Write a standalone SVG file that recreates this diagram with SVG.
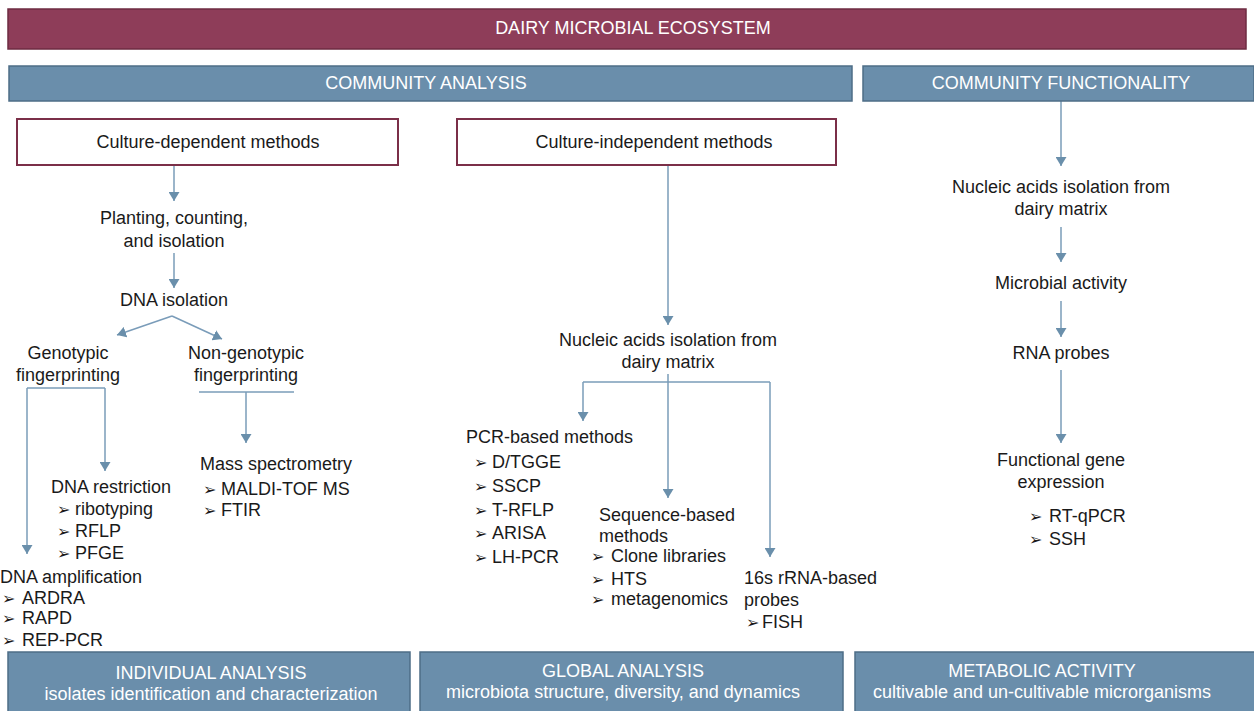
<svg xmlns="http://www.w3.org/2000/svg" width="1254" height="711" viewBox="0 0 1254 711">
<style>
.t{font-family:"Liberation Sans",Arial,sans-serif;font-size:18px;fill:#1a1a1a}
.c{text-anchor:middle}
.w{fill:#ffffff}
.b{font-family:"DejaVu Sans",sans-serif;font-size:16px;fill:#1a1a1a}
.red{fill:#8e3d59;stroke:#6e2b42;stroke-width:1.5}
.blue{fill:#6a8eab;stroke:#4e6d87;stroke-width:1.5}
.box{fill:#ffffff;stroke:#7b2f48;stroke-width:2}
.ln{fill:none;stroke:#7a9cb9;stroke-width:1.5}
.ar{fill:none;stroke:#7a9cb9;stroke-width:1.5;marker-end:url(#ah)}
</style>
<defs>
<marker id="ah" viewBox="0 0 9 11" refX="9" refY="5.5" markerWidth="9" markerHeight="11" markerUnits="userSpaceOnUse" orient="auto">
<path d="M0,0 L9,5.5 L0,11 z" fill="#6a8fab"/>
</marker>
</defs>
<rect width="1254" height="711" fill="#ffffff"/>

<g id="connectors">
<line class="ar" x1="174" y1="166" x2="174" y2="201"/>
<line class="ar" x1="174" y1="253" x2="174" y2="288"/>
<line class="ar" x1="172" y1="316" x2="117" y2="335"/>
<line class="ar" x1="172" y1="316" x2="222" y2="339"/>
<line class="ln" x1="27" y1="388" x2="105" y2="388"/>
<line class="ar" x1="27" y1="388" x2="27" y2="554"/>
<line class="ar" x1="105" y1="388" x2="105" y2="471"/>
<line class="ln" x1="199" y1="392" x2="294" y2="392"/>
<line class="ar" x1="246" y1="392" x2="246" y2="443"/>

<line class="ar" x1="668" y1="166" x2="668" y2="325"/>
<line class="ln" x1="583" y1="382" x2="770" y2="382"/>
<line class="ln" x1="668" y1="374" x2="668" y2="382"/>
<line class="ar" x1="583" y1="382" x2="583" y2="421"/>
<line class="ar" x1="668" y1="382" x2="668" y2="498"/>
<line class="ar" x1="770" y1="382" x2="770" y2="557"/>

<line class="ar" x1="1061" y1="101" x2="1061" y2="166"/>
<line class="ar" x1="1061" y1="227" x2="1061" y2="262"/>
<line class="ar" x1="1061" y1="301" x2="1061" y2="337"/>
<line class="ar" x1="1061" y1="370" x2="1061" y2="443"/>
</g>

<g id="ecosystem">
<rect class="red" x="8" y="9" width="1238" height="40"/>
<text class="t c w" x="633" y="34">DAIRY MICROBIAL ECOSYSTEM</text>
</g>
<g id="community-analysis">
<rect class="blue" x="9" y="66" width="843" height="35"/>
<text class="t c w" x="426" y="89">COMMUNITY ANALYSIS</text>
</g>
<g id="community-functionality">
<rect class="blue" x="863" y="66" width="391" height="35"/>
<text class="t c w" x="1061" y="89">COMMUNITY FUNCTIONALITY</text>
</g>

<g id="culture-dependent">
<rect class="box" x="17" y="119" width="381" height="46"/>
<text class="t c" x="208" y="148">Culture-dependent methods</text>
</g>
<g id="culture-independent">
<rect class="box" x="457" y="119" width="379" height="46"/>
<text class="t c" x="654" y="148">Culture-independent methods</text>
</g>

<g id="planting">
<text class="t c" x="174" y="224">Planting, counting,</text>
<text class="t c" x="174" y="247">and isolation</text>
</g>
<g id="dna-isolation">
<text class="t c" x="174" y="306">DNA isolation</text>
</g>
<g id="genotypic">
<text class="t c" x="68" y="359">Genotypic</text>
<text class="t c" x="68" y="381">fingerprinting</text>
</g>
<g id="non-genotypic">
<text class="t c" x="246" y="359">Non-genotypic</text>
<text class="t c" x="246" y="381">fingerprinting</text>
</g>
<g id="mass-spectrometry">
<text class="t" x="200" y="470">Mass spectrometry</text>
<text class="b" x="203" y="495">➢</text><text class="t" x="221" y="495">MALDI-TOF MS</text>
<text class="b" x="203" y="516">➢</text><text class="t" x="221" y="516">FTIR</text>
</g>
<g id="dna-restriction">
<text class="t" x="51" y="493">DNA restriction</text>
<text class="b" x="57" y="515">➢</text><text class="t" x="75" y="515">ribotyping</text>
<text class="b" x="57" y="537">➢</text><text class="t" x="75" y="537">RFLP</text>
<text class="b" x="57" y="559">➢</text><text class="t" x="75" y="559">PFGE</text>
</g>
<g id="dna-amplification">
<text class="t" x="0" y="583">DNA amplification</text>
<text class="b" x="2" y="604">➢</text><text class="t" x="22" y="604">ARDRA</text>
<text class="b" x="2" y="624">➢</text><text class="t" x="22" y="624">RAPD</text>
<text class="b" x="2" y="646">➢</text><text class="t" x="22" y="646">REP-PCR</text>
</g>

<g id="nucleic-central">
<text class="t c" x="668" y="346">Nucleic acids isolation from</text>
<text class="t c" x="668" y="368">dairy matrix</text>
</g>
<g id="pcr-based">
<text class="t" x="466" y="443">PCR-based methods</text>
<text class="b" x="474" y="468">➢</text><text class="t" x="492" y="468">D/TGGE</text>
<text class="b" x="474" y="492">➢</text><text class="t" x="492" y="492">SSCP</text>
<text class="b" x="474" y="516">➢</text><text class="t" x="492" y="516">T-RFLP</text>
<text class="b" x="474" y="539">➢</text><text class="t" x="492" y="539">ARISA</text>
<text class="b" x="474" y="563">➢</text><text class="t" x="492" y="563">LH-PCR</text>
</g>
<g id="sequence-based">
<text class="t" x="599" y="521">Sequence-based</text>
<text class="t" x="599" y="542">methods</text>
<text class="b" x="591" y="562">➢</text><text class="t" x="611" y="562">Clone libraries</text>
<text class="b" x="591" y="585">➢</text><text class="t" x="611" y="585">HTS</text>
<text class="b" x="591" y="605">➢</text><text class="t" x="611" y="605">metagenomics</text>
</g>
<g id="rrna-probes">
<text class="t" x="744" y="584">16s rRNA-based</text>
<text class="t" x="744" y="606">probes</text>
<text class="b" x="746" y="628">➢</text><text class="t" x="762" y="628">FISH</text>
</g>

<g id="nucleic-right">
<text class="t c" x="1061" y="193">Nucleic acids isolation from</text>
<text class="t c" x="1061" y="215">dairy matrix</text>
</g>
<g id="microbial-activity">
<text class="t c" x="1061" y="289">Microbial activity</text>
</g>
<g id="rna-probes">
<text class="t c" x="1061" y="359">RNA probes</text>
</g>
<g id="functional-gene">
<text class="t c" x="1061" y="466">Functional gene</text>
<text class="t c" x="1061" y="488">expression</text>
<text class="b" x="1029" y="522">➢</text><text class="t" x="1049" y="522">RT-qPCR</text>
<text class="b" x="1029" y="545">➢</text><text class="t" x="1049" y="545">SSH</text>
</g>

<g id="individual-analysis">
<rect class="blue" x="8" y="652" width="402" height="62"/>
<text class="t c w" x="211" y="679">INDIVIDUAL ANALYSIS</text>
<text class="t c w" x="211" y="700">isolates identification and characterization</text>
</g>
<g id="global-analysis">
<rect class="blue" x="420" y="652" width="423" height="62"/>
<text class="t c w" x="623" y="677">GLOBAL ANALYSIS</text>
<text class="t c w" x="623" y="698">microbiota structure, diversity, and dynamics</text>
</g>
<g id="metabolic-activity">
<rect class="blue" x="855" y="652" width="402" height="62"/>
<text class="t c w" x="1042" y="677">METABOLIC ACTIVITY</text>
<text class="t c w" x="1042" y="698">cultivable and un-cultivable microrganisms</text>
</g>
</svg>
